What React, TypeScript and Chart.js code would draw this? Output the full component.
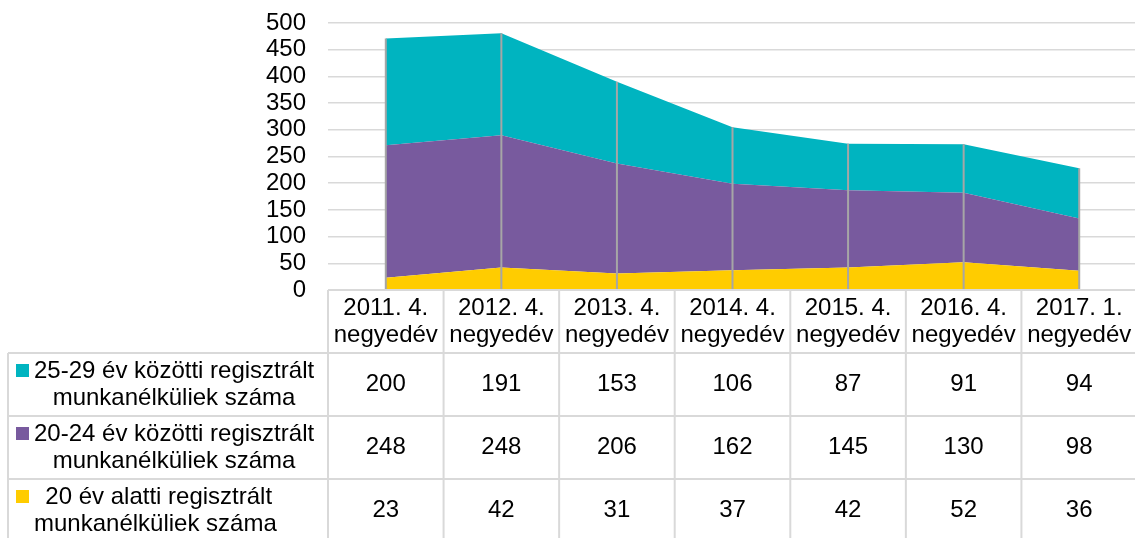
import React, { useEffect, useRef } from "react";
import { Chart, registerables } from "chart.js";

Chart.register(...registerables);

const categories: string[][] = [
  ["2011. 4.", "negyedév"],
  ["2012. 4.", "negyedév"],
  ["2013. 4.", "negyedév"],
  ["2014. 4.", "negyedév"],
  ["2015. 4.", "negyedév"],
  ["2016. 4.", "negyedév"],
  ["2017. 1.", "negyedév"],
];
const age25to29 = [200, 191, 153, 106, 87, 91, 94];
const age20to24 = [248, 248, 206, 162, 145, 130, 98];
const under20 = [23, 42, 31, 37, 42, 52, 36];

const label25to29 = ["25-29 év közötti regisztrált", "munkanélküliek száma"];
const label20to24 = ["20-24 év közötti regisztrált", "munkanélküliek száma"];
const labelUnder20 = [" 20 év alatti regisztrált", "munkanélküliek száma"];

const Y_MIN = 0;
const Y_MAX = 500;
const Y_STEP = 50;

const TEAL = "#00B4C0";
const PURPLE = "#785A9E";
const YELLOW = "#FFCC00";
const GRID = "#D9D9D9";
const DROP = "#A6A6A6";
const FONT_FAMILY = "'Liberation Sans', Arial, sans-serif";
const FONT_SIZE = 24;

const dropLinesPlugin = {
  id: "dropLines",
  afterDatasetsDraw(chart: any) {
    const ctx = chart.ctx;
    const last = chart.data.datasets.length - 1;
    const meta = chart.getDatasetMeta(last);
    const bottom = chart.chartArea.bottom;
    ctx.save();
    ctx.strokeStyle = DROP;
    ctx.lineWidth = 2;
    meta.data.forEach((pt: any) => {
      ctx.beginPath();
      ctx.moveTo(pt.x, pt.y);
      ctx.lineTo(pt.x, bottom);
      ctx.stroke();
    });
    ctx.restore();
  },
};

const dataTablePlugin = {
  id: "dataTable",
  afterDraw(chart: any) {
    const ctx = chart.ctx;
    const xs = chart.scales.x;
    const n = categories.length;
    const cw = (xs.right - xs.left) / n;
    const top = chart.chartArea.bottom;
    const headerH = 63;
    const rowH = 63;
    const tableLeft = 8;
    const rows = [
      { label: label25to29, color: TEAL, values: age25to29 },
      { label: label20to24, color: PURPLE, values: age20to24 },
      { label: labelUnder20, color: YELLOW, values: under20 },
    ];
    const tableBottom = top + headerH + rowH * rows.length;
    const right = chart.width;

    ctx.save();
    ctx.strokeStyle = GRID;
    ctx.lineWidth = 2;
    ctx.beginPath();
    ctx.moveTo(xs.left, top);
    ctx.lineTo(right, top);
    ctx.stroke();
    for (let r = 0; r <= rows.length; r++) {
      const y = top + headerH + r * rowH;
      ctx.beginPath();
      ctx.moveTo(tableLeft, y);
      ctx.lineTo(right, y);
      ctx.stroke();
    }
    for (let i = 0; i <= n; i++) {
      const x = xs.left + i * cw;
      ctx.beginPath();
      ctx.moveTo(x, top);
      ctx.lineTo(x, tableBottom);
      ctx.stroke();
    }
    ctx.beginPath();
    ctx.moveTo(tableLeft, top + headerH);
    ctx.lineTo(tableLeft, tableBottom);
    ctx.stroke();

    ctx.fillStyle = "#000";
    ctx.font = `${FONT_SIZE}px ${FONT_FAMILY}`;
    ctx.textBaseline = "middle";
    const lineH = 27;

    ctx.textAlign = "center";
    categories.forEach((cat, i) => {
      const cx = xs.getPixelForValue(i);
      const cy = top + headerH / 2;
      cat.forEach((line, j) => {
        ctx.fillText(line, cx, cy + (j - (cat.length - 1) / 2) * lineH);
      });
    });

    rows.forEach((row, r) => {
      const cy = top + headerH + r * rowH + rowH / 2;
      ctx.fillStyle = row.color;
      ctx.fillRect(16, cy - lineH / 2 - 7, 13, 13);
      ctx.fillStyle = "#000";
      const widths = row.label.map((l) => ctx.measureText(l).width);
      const blockW = Math.max(...widths);
      const textCx = 34 + blockW / 2;
      ctx.textAlign = "center";
      row.label.forEach((line, j) => {
        ctx.fillText(line, textCx, cy + (j - (row.label.length - 1) / 2) * lineH);
      });
      row.values.forEach((v, i) => {
        ctx.fillText(String(v), xs.getPixelForValue(i), cy);
      });
    });
    ctx.restore();
  },
};

export default function App() {
  const canvasRef = useRef<HTMLCanvasElement | null>(null);

  useEffect(() => {
    if (!canvasRef.current) return;
    const chart = new Chart(canvasRef.current, {
      type: "line",
      data: {
        labels: categories.map((c) => c.join(" ")),
        datasets: [
          {
            label: labelUnder20.join(" "),
            data: under20,
            backgroundColor: YELLOW,
            borderWidth: 0,
            pointRadius: 0,
            fill: "origin",
            tension: 0,
          },
          {
            label: label20to24.join(" "),
            data: age20to24,
            backgroundColor: PURPLE,
            borderWidth: 0,
            pointRadius: 0,
            fill: "-1",
            tension: 0,
          },
          {
            label: label25to29.join(" "),
            data: age25to29,
            backgroundColor: TEAL,
            borderWidth: 0,
            pointRadius: 0,
            fill: "-1",
            tension: 0,
          },
        ],
      },
      options: {
        responsive: false,
        animation: false,
        devicePixelRatio: 1,
        layout: { padding: { top: 23, bottom: 248, left: 0, right: 0 } },
        plugins: {
          legend: { display: false },
          tooltip: { enabled: false },
        },
        scales: {
          x: {
            type: "category",
            offset: true,
            display: false,
          },
          y: {
            stacked: true,
            min: Y_MIN,
            max: Y_MAX,
            ticks: {
              stepSize: Y_STEP,
              autoSkip: false,
              padding: 0,
              color: "#000",
              font: { family: FONT_FAMILY, size: FONT_SIZE },
            },
            grid: {
              color: GRID,
              lineWidth: 1.5,
              drawTicks: true,
              tickLength: 22,
              tickColor: "rgba(0,0,0,0)",
            },
            border: { display: false },
            afterFit(scale: any) {
              scale.width = 328;
            },
          },
        },
      },
      plugins: [dropLinesPlugin, dataTablePlugin],
    });
    return () => chart.destroy();
  }, []);

  return (
    <div
      style={{
        position: "fixed",
        left: 0,
        top: 0,
        width: 1135,
        height: 538,
        overflow: "hidden",
        background: "#fff",
      }}
    >
      <canvas
        ref={canvasRef}
        width={1137}
        height={538}
        style={{ width: 1137, height: 538, display: "block" }}
      />
    </div>
  );
}
